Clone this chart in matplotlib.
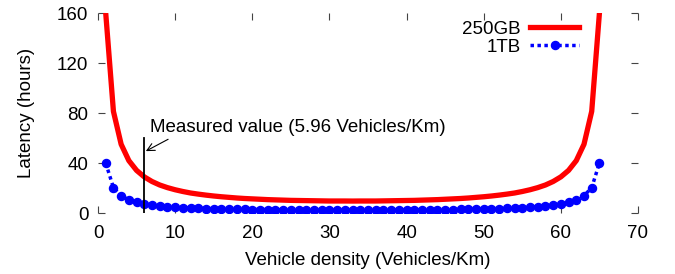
import matplotlib
matplotlib.use('Agg')
import matplotlib.pyplot as plt

plt.rcParams['font.family'] = ['Liberation Sans', 'DejaVu Sans']

density = list(range(1, 66))

half_250gb = [160, 81.3, 55.0, 41.9, 34.1, 28.9, 25.2, 22.4, 20.3, 18.6, 17.2,
              16.0, 15.1, 14.3, 13.6, 13.0, 12.5, 12.0, 11.6, 11.3, 11.0, 10.7,
              10.5, 10.3, 10.1, 10.0, 9.9, 9.8, 9.7, 9.6, 9.6, 9.6]
latency_250gb = half_250gb + [9.55] + half_250gb[::-1]

half_1tb = [40, 20.3, 13.8, 10.5, 8.5, 7.2, 6.3, 5.6, 5.1, 4.6, 4.3, 4.0,
            3.8, 3.6, 3.4, 3.3, 3.1, 3.0, 2.9, 2.8, 2.75, 2.7, 2.6, 2.6,
            2.5, 2.5, 2.5, 2.45, 2.4, 2.4, 2.4, 2.4]
latency_1tb = half_1tb + [2.4] + half_1tb[::-1]

measured = 5.96
fs = 13.5

fig = plt.figure(figsize=(6.75, 2.74), dpi=100)
ax = fig.add_axes([98 / 675, 61 / 274, 540 / 675, 200 / 274])

ax.plot(density, latency_250gb, color='#ff0000', lw=3.8, label='250GB')
ax.plot(density, latency_1tb, color='#0000ff', lw=2.5, ls=(0, (1, 1)),
        marker='o', ms=5.8, label='1TB')

ax.plot([measured, measured], [0, 60], color='black', lw=1.3)
ax.annotate('Measured value (5.96 Vehicles/Km)', xy=(6.2, 49.5),
            xytext=(6.7, 68), fontsize=fs, va='center',
            arrowprops=dict(arrowstyle='->', color='black', lw=0.8,
                            shrinkA=0, shrinkB=0,
                            relpos=(0.08, 0.0)))

ax.set_xlim(0, 70)
ax.set_ylim(0, 160)
ax.set_xticks(range(0, 71, 10))
ax.set_yticks([0, 40, 80, 120, 160])
for s in ax.spines.values():
    s.set_visible(False)
ax.tick_params(direction='in', length=5, width=0.8, color='#444444',
               top=True, right=True, labelsize=fs, pad=7)
ax.tick_params(axis='x', pad=9)

ax.set_xlabel('Vehicle density (Vehicles/Km)', fontsize=fs, labelpad=7)
ax.set_ylabel('Latency (hours)', fontsize=fs, labelpad=16)

ax.legend(loc='upper right', bbox_to_anchor=(0.905, 1.0), frameon=False,
          markerfirst=False, fontsize=fs, handlelength=2.6,
          handletextpad=0.5, labelspacing=0.05, borderaxespad=0)

fig.savefig('out.png', dpi=100)
